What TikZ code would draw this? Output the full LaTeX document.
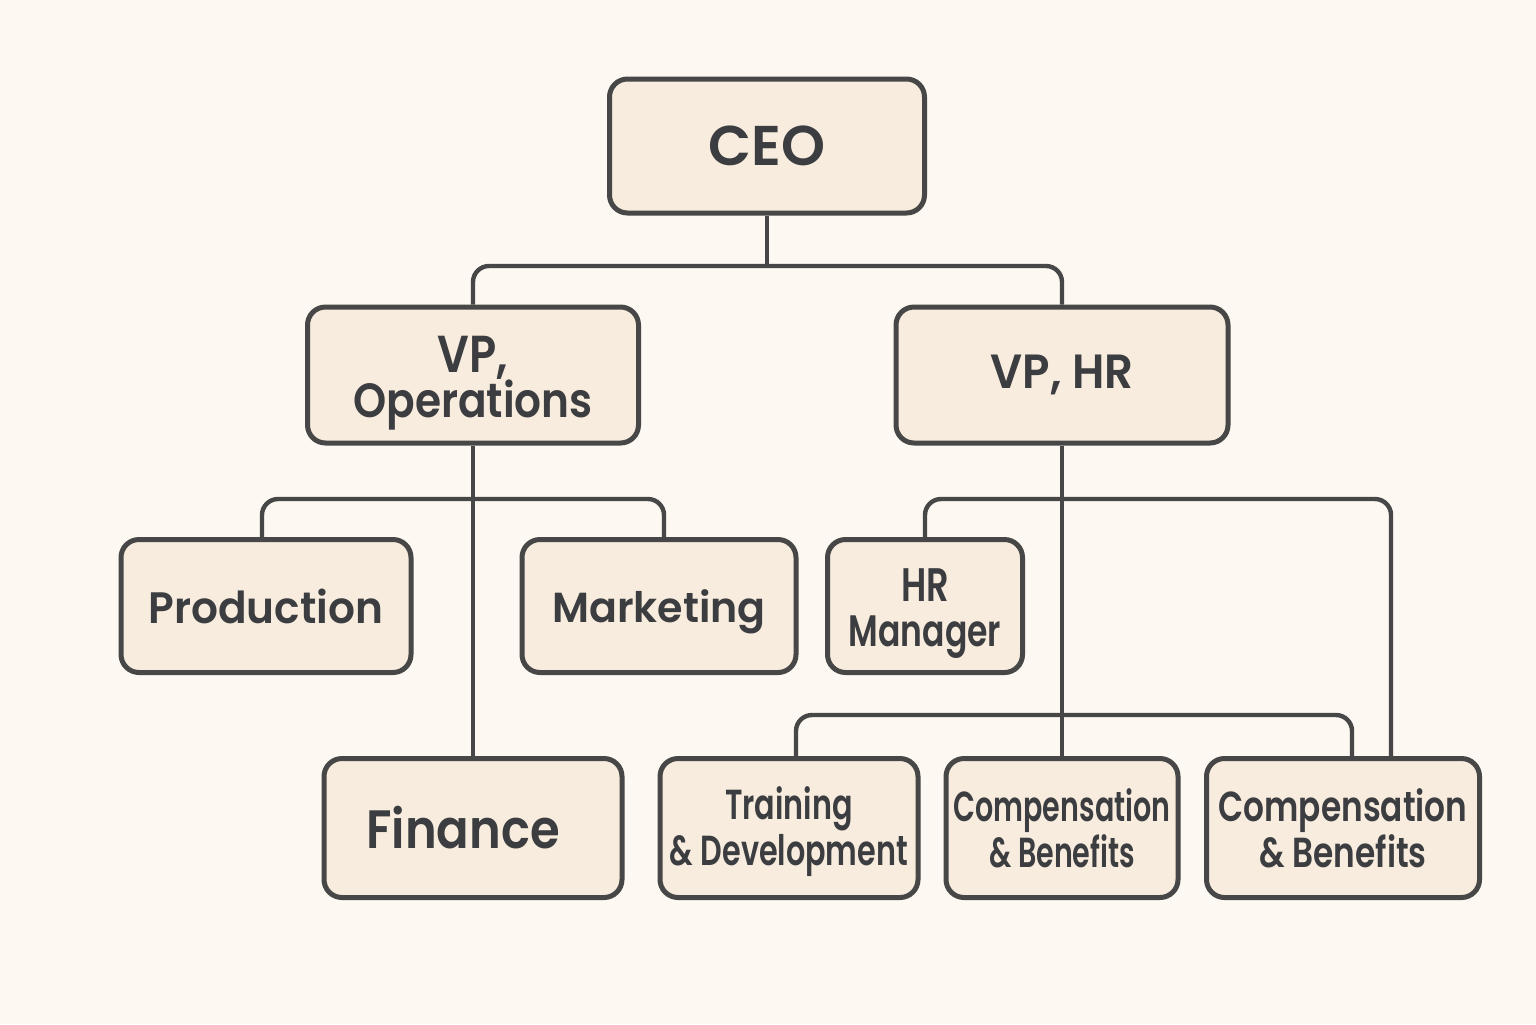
\documentclass[tikz,border=0pt]{standalone}
\usepackage{fontspec}
\setmainfont{Poppins}[BoldFont={Poppins SemiBold}]
\usetikzlibrary{calc}
\definecolor{bg}{HTML}{FDF8F1}
\definecolor{boxfill}{HTML}{F7ECDD}
\definecolor{ink}{HTML}{474747}
\definecolor{txt}{HTML}{3C3D40}
\newcommand{\nx}[2]{\scalebox{#1}[1]{#2}}
\tikzset{
  box/.style={draw=ink, line width=2.5pt, fill=boxfill, rounded corners=9pt,
    align=center, text=txt, inner sep=0pt, font=\bfseries},
  conn/.style={draw=ink, line width=2.2pt, rounded corners=8pt},
}
\begin{document}
\begin{tikzpicture}[x=0.5pt,y=-0.5pt]
\fill[bg] (0,0) rectangle (1536,1024);
\useasboundingbox (0,0) rectangle (1536,1024);
% nodes
\node[box, minimum width=157.5pt, minimum height=67pt, font=\bfseries\fontsize{28}{30}\selectfont] (ceo) at (767,146) {CEO};
\node[box, minimum width=165.5pt, minimum height=68pt, font=\bfseries\fontsize{24}{22.5}\selectfont] (vpo) at (473,375) {\raisebox{0pt}[26pt][0pt]{\fontsize{26}{22.5}\selectfont\nx{0.86}{VP,}}\\\nx{0.88}{Operations}};
\node[box, minimum width=166pt, minimum height=68pt, font=\bfseries\fontsize{24}{25}\selectfont] (vph) at (1062,375) {\nx{0.94}{VP, HR}};
\node[box, minimum width=145pt, minimum height=66.5pt, font=\bfseries\fontsize{22}{24}\selectfont] (prod) at (266,606) {\nx{0.96}{Production}};
\node[box, minimum width=137pt, minimum height=66.5pt, text depth=0pt, font=\bfseries\fontsize{21}{24}\selectfont] (mkt) at (659,606) {\nx{0.98}{Marketing}};
\node[box, minimum width=97.5pt, minimum height=66.5pt, font=\bfseries\fontsize{22}{22.5}\selectfont] (hrm) at (925,606) {\raisebox{0pt}[24pt][0pt]{\fontsize{23.5}{22.5}\selectfont\nx{0.75}{HR}}\\\nx{0.75}{Manager}};
\node[box, minimum width=149pt, minimum height=69.5pt, font=\bfseries\fontsize{27}{28}\selectfont] (fin) at (473,828) {\hspace*{-10pt}\nx{0.89}{Finance}};
\node[box, minimum width=129pt, minimum height=69.5pt, font=\bfseries\fontsize{21}{23}\selectfont] (trn) at (789,828) {\raisebox{0pt}[20pt][0pt]{\nx{0.72}{Training}}\\\nx{0.72}{\& Development}};
\node[box, minimum width=116pt, minimum height=69.5pt, font=\bfseries\fontsize{21}{23}\selectfont] (cb1) at (1062,828) {\nx{0.68}{Compensation}\\\nx{0.68}{\& Benefits}};
\node[box, minimum width=136.5pt, minimum height=69.5pt, font=\bfseries\fontsize{21}{23}\selectfont] (cb2) at (1343,828) {\nx{0.78}{Compensation}\\\nx{0.78}{\& Benefits}};
% junctions
\coordinate (j1) at (767,266);
\coordinate (j2) at (473,499);
\coordinate (j3) at (1062,499);
\coordinate (j4) at (1062,715);
% connectors
\draw[conn] (ceo.south) -- (j1);
\draw[conn] (j1) -| (vpo.north);
\draw[conn] (j1) -| (vph.north);
\draw[conn] (vpo.south) -- (fin.north);
\draw[conn] (j2) -| ($(prod.north)+(-4,0)$);
\draw[conn] (j2) -| ($(mkt.north)+(5,0)$);
\draw[conn] (vph.south) -- (cb1.north);
\draw[conn] (j3) -| (hrm.north);
\draw[conn] (j3) -| ($(cb2.north)+(48,0)$);
\draw[conn] (j4) -| ($(trn.north)+(7,0)$);
\draw[conn] (j4) -| ($(cb2.north)+(9,0)$);
\end{tikzpicture}
\end{document}
